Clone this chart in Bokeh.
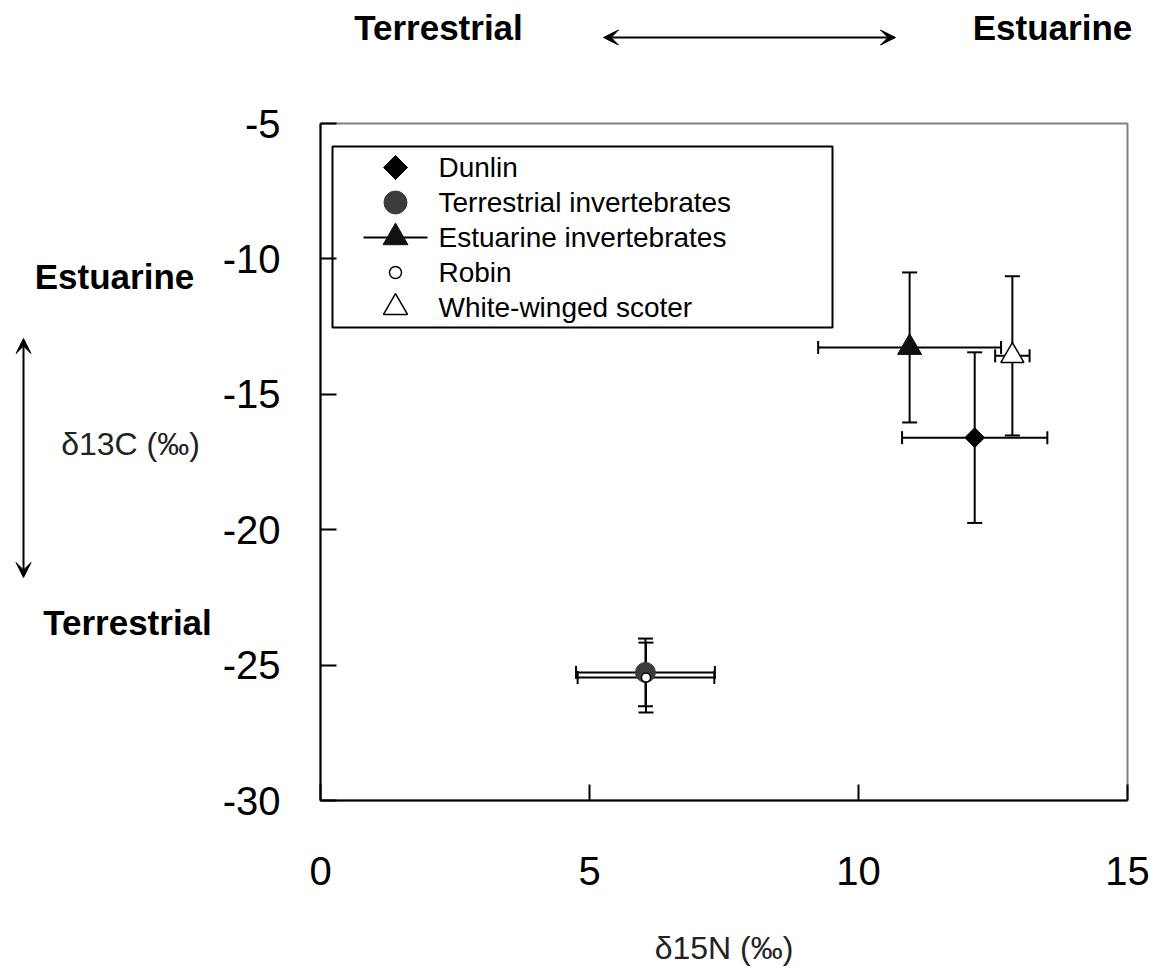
import math
from bokeh.plotting import figure
from bokeh.layouts import column, row
from bokeh.models import (Range1d, FixedTicker, Whisker, TeeHead, Arrow, VeeHead,
                          Label, ColumnDataSource, CustomJSTickFormatter)
from bokeh.core.properties import value
from bokeh.embed import file_html
from bokeh.resources import INLINE

# ---------------- data ----------------
series = ["Dunlin", "Terrestrial invertebrates", "Estuarine invertebrates",
          "Robin", "White-winged scoter"]
d15n = [12.16, 6.04, 10.95, 6.05, 12.86]        # x mean
d15n_err = [1.35, 1.29, 1.70, 1.27, 0.32]       # x error (+/-)
d13c = [-16.6, -25.27, -13.27, -25.46, -13.58]  # y mean
d13c_err = [3.15, 1.25, 2.77, 1.29, 2.94]       # y error (+/-)
x_ticks = [0, 5, 10, 15]
y_ticks = [-30, -25, -20, -15, -10, -5]
x_label = "δ15N (‰)"
y_label = "δ13C (‰)"
top_left_text = "Terrestrial"
top_right_text = "Estuarine"
side_top_text = "Estuarine"
side_bottom_text = "Terrestrial"

# ---------------- styles ----------------
STYLE = {
    "Dunlin": dict(marker="square", angle=math.pi / 4, fill="black", line="black",
                   lw=1, size=14, leg_size=17),
    "Terrestrial invertebrates": dict(marker="circle", angle=0, fill="#3c3c3c",
                                      line="#3c3c3c", lw=1, size=20, leg_size=23),
    "Estuarine invertebrates": dict(marker="triangle", angle=0, fill="#111111",
                                    line="#111111", lw=1, size=24, leg_size=25),
    "Robin": dict(marker="circle", angle=0, fill="white", line="black",
                  lw=1.5, size=9, leg_size=12),
    "White-winged scoter": dict(marker="triangle", angle=0, fill="white",
                                line="black", lw=1.5, size=23, leg_size=24),
}
DRAW_ORDER = ["Terrestrial invertebrates", "Robin", "Estuarine invertebrates",
              "White-winged scoter", "Dunlin"]

# ---------------- page geometry (pixels) ----------------
W = 1154
TOP_H = 80
LEFT_W = 218
FL, FR, FT, FB = 320, 1127, 123, 800          # frame edges on the page
BOTTOM_BORDER = 170
X0, X1, Y0, Y1 = 0, 15, -30, -5
BOLD = dict(text_font="Liberation Sans", text_font_style="bold",
            text_font_size="35px", text_color="black",
            text_align="center", text_baseline="middle")


def head():
    return VeeHead(size=15, fill_color="black", line_color="black", line_width=1)


# ---------------- top strip ----------------
top = figure(width=W, height=TOP_H,
             x_range=Range1d(0, W), y_range=Range1d(TOP_H, 0),
             x_axis_type=None, y_axis_type=None, min_border=0,
             outline_line_color=None, toolbar_location=None,
             output_backend="svg", background_fill_color="white",
             border_fill_color="white")
top.add_layout(Label(x=438, y=27, text=top_left_text, **BOLD))
top.add_layout(Label(x=1052, y=27, text=top_right_text, **BOLD))
top.add_layout(Arrow(x_start=603, y_start=37, x_end=895, y_end=37,
                     start=head(), end=head(), line_width=2, line_color="black"))

# ---------------- left strip (frame aligned with the main frame) ----------------
left = figure(width=LEFT_W, height=(FT - TOP_H) + (FB - FT) + BOTTOM_BORDER,
              x_range=Range1d(0, LEFT_W), y_range=Range1d(FB, FT),
              x_axis_type=None, y_axis_type=None,
              min_border_left=0, min_border_right=0,
              min_border_top=FT - TOP_H, min_border_bottom=BOTTOM_BORDER,
              outline_line_color=None, toolbar_location=None,
              output_backend="svg", background_fill_color="white",
              border_fill_color="white")
left.add_layout(Label(x=114, y=276, text=side_top_text, **BOLD))
left.add_layout(Label(x=127, y=622, text=side_bottom_text, **BOLD))
left.add_layout(Label(x=130, y=443, text=y_label, text_font="Liberation Sans",
                      text_font_size="32px", text_color="#222222",
                      text_align="center", text_baseline="middle"))
left.add_layout(Arrow(x_start=23, y_start=338, x_end=23, y_end=577,
                      start=head(), end=head(), line_width=2, line_color="black"))

# ---------------- main plot ----------------
p = figure(frame_width=FR - FL, frame_height=FB - FT,
           x_range=Range1d(X0, X1), y_range=Range1d(Y0, Y1),
           output_backend="svg", toolbar_location=None,
           min_border_left=FL - LEFT_W, min_border_right=W - FR,
           min_border_top=FT - TOP_H, min_border_bottom=BOTTOM_BORDER,
           background_fill_color="white", border_fill_color="white")
p.xgrid.visible = False
p.ygrid.visible = False
p.outline_line_color = "#808080"
p.outline_line_width = 2
p.extra_x_ranges = {"px": Range1d(FL, FR)}
p.extra_y_ranges = {"px": Range1d(FB, FT)}

for ax, ticks in ((p.xaxis, x_ticks), (p.yaxis, y_ticks)):
    ax.ticker = FixedTicker(ticks=ticks)
    ax.major_label_text_font = "Liberation Sans"
    ax.major_label_text_font_size = "40px"
    ax.major_label_text_color = "black"
    ax.major_tick_in = 16
    ax.major_tick_out = 0
    ax.minor_tick_in = 0
    ax.minor_tick_out = 0
    ax.major_tick_line_width = 2
    ax.major_tick_line_color = "black"
    ax.axis_line_width = 2
    ax.axis_line_color = "black"
    ax.axis_label_text_font = "Liberation Sans"
    ax.axis_label_text_font_size = "32px"
    ax.axis_label_text_font_style = "normal"
    ax.axis_label_text_color = "#222222"

p.yaxis.formatter = CustomJSTickFormatter(code="return String(tick)")
p.xaxis.major_label_standoff = 56
p.yaxis.major_label_standoff = 40
p.xaxis.axis_label = x_label
p.xaxis.axis_label_standoff = 42

# sources
srcs = {}
for i, name in enumerate(series):
    srcs[name] = ColumnDataSource(dict(
        x=[d15n[i]], y=[d13c[i]],
        xlo=[d15n[i] - d15n_err[i]], xhi=[d15n[i] + d15n_err[i]],
        ylo=[d13c[i] - d13c_err[i]], yhi=[d13c[i] + d13c_err[i]],
    ))

# error bars
for name in DRAW_ORDER:
    s = srcs[name]
    p.add_layout(Whisker(source=s, base="x", lower="ylo", upper="yhi",
                         dimension="height", line_width=2, line_color="black",
                         upper_head=TeeHead(size=15, line_width=2, line_color="black"),
                         lower_head=TeeHead(size=15, line_width=2, line_color="black"),
                         level="underlay"))
    p.add_layout(Whisker(source=s, base="y", lower="xlo", upper="xhi",
                         dimension="width", line_width=2, line_color="black",
                         upper_head=TeeHead(size=13, line_width=2, line_color="black"),
                         lower_head=TeeHead(size=13, line_width=2, line_color="black"),
                         level="underlay"))

# markers
for name in DRAW_ORDER:
    st = STYLE[name]
    p.scatter("x", "y", source=srcs[name], marker=st["marker"], angle=st["angle"],
              size=st["size"], fill_color=st["fill"], line_color=st["line"],
              line_width=st["lw"])

# ---------------- legend (drawn in page-pixel coordinates) ----------------
LEG_L, LEG_R, LEG_T, LEG_B = 332, 832, 146, 327
ROW0, PITCH = 167, 35
MARK_X, TEXT_X = 395, 438
LINE_HALF = 32

p.quad(left=[LEG_L], right=[LEG_R], top=[LEG_T], bottom=[LEG_B],
       x_range_name="px", y_range_name="px",
       fill_color="white", line_color="black", line_width=2)
rows = [ROW0 + i * PITCH for i in range(len(series))]
for name, ry in zip(series, rows):
    st = STYLE[name]
    if name == "Estuarine invertebrates":
        p.segment(x0=[MARK_X - LINE_HALF], x1=[MARK_X + LINE_HALF], y0=[ry], y1=[ry],
                  x_range_name="px", y_range_name="px",
                  line_color="black", line_width=2)
    p.scatter(x=[MARK_X], y=[ry], marker=st["marker"], angle=st["angle"],
              size=st["leg_size"], fill_color=st["fill"], line_color=st["line"],
              line_width=st["lw"], x_range_name="px", y_range_name="px")
p.text(x=[TEXT_X] * len(series), y=rows, text=series,
       x_range_name="px", y_range_name="px",
       text_font=value("Liberation Sans"), text_font_size=value("28px"),
       text_color="black", text_align="left", text_baseline="middle")

layout = column(top, row(left, p))
open("out.html", "w").write(file_html(layout, INLINE))
